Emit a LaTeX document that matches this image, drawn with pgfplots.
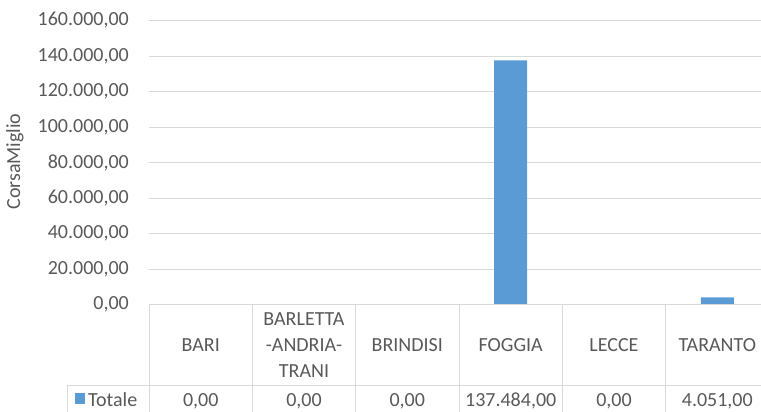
\documentclass[border=0pt]{standalone}
\usepackage{pgfplots}
\pgfplotsset{compat=1.18}
\usepackage{pgfplotstable}
\usepackage{fontspec}
\setmainfont{Carlito}
\definecolor{txt}{HTML}{595959}
\definecolor{gridc}{HTML}{D9D9D9}
\definecolor{barc}{HTML}{5B9BD5}

\pgfplotstableread{
x val
0 0
1 0
2 0
3 137484
4 0
5 4051
}\totale

\begin{document}
\fontsize{20bp}{25bp}\selectfont
\begin{tikzpicture}
\useasboundingbox (0,0) rectangle (761bp,412bp);
\begin{axis}[
  at={(149bp,107.5bp)}, anchor=south west,
  scale only axis, width=620bp, height=284bp,
  xmin=-0.5, xmax=5.5, ymin=0, ymax=160000,
  ytick={0,20000,...,160000}, xtick=\empty,
  ymajorgrids, grid style={gridc, line width=0.9bp},
  axis line style={draw=none},
  major tick length=0pt,
  yticklabel style={font=\fontsize{20bp}{24bp}\selectfont, text=txt, inner sep=0pt, xshift=-20bp},
  scaled y ticks=false,
  /pgf/number format/.cd, fixed, fixed zerofill, precision=2, use comma, assume math mode=true,
  /pgfplots/.cd,
  clip=false,
]
\addplot[ybar, bar width=0.32, fill=barc, draw=none] table[x=x, y=val] {\totale};
\end{axis}
\begin{scope}[x=1bp, y=1bp, font=\fontsize{20bp}{25bp}\selectfont, text=txt]
  % data table grid
  \draw[gridc, line width=0.9] (149,107.5) -- (775,107.5);
  \draw[gridc, line width=0.9] (67,27) -- (775,27);
  \foreach \xx in {149,252.33,355.67,459,562.33,665.67}
    \draw[gridc, line width=0.9] (\xx,107.5) -- (\xx,-10);
  \draw[gridc, line width=0.9] (67,27) -- (67,-10);
  % categories
  \node[anchor=base] at (200.7,61) {BARI};
  \node[anchor=base] at (304,87) {BARLETTA};
  \node[anchor=base] at (304,61) {-ANDRIA-};
  \node[anchor=base] at (304,35) {TRANI};
  \node[anchor=base] at (407.3,61) {BRINDISI};
  \node[anchor=base] at (510.7,61) {FOGGIA};
  \node[anchor=base] at (614,61) {LECCE};
  \node[anchor=base] at (717.3,61) {TARANTO};
  % values row
  \fill[barc] (75,8.5) rectangle (85,18.5);
  \node[anchor=base west, inner sep=0pt] at (88,5.5) {Totale};
  \node[anchor=base] at (200.7,5.5) {0,00};
  \node[anchor=base] at (304,5.5) {0,00};
  \node[anchor=base] at (407.3,5.5) {0,00};
  \node[anchor=base] at (510.7,5.5) {137.484,00};
  \node[anchor=base] at (614,5.5) {0,00};
  \node[anchor=base] at (717.3,5.5) {4.051,00};
  % axis title
  \node[rotate=90] at (15,250.5) {CorsaMiglio};
\end{scope}
\end{tikzpicture}
\end{document}
